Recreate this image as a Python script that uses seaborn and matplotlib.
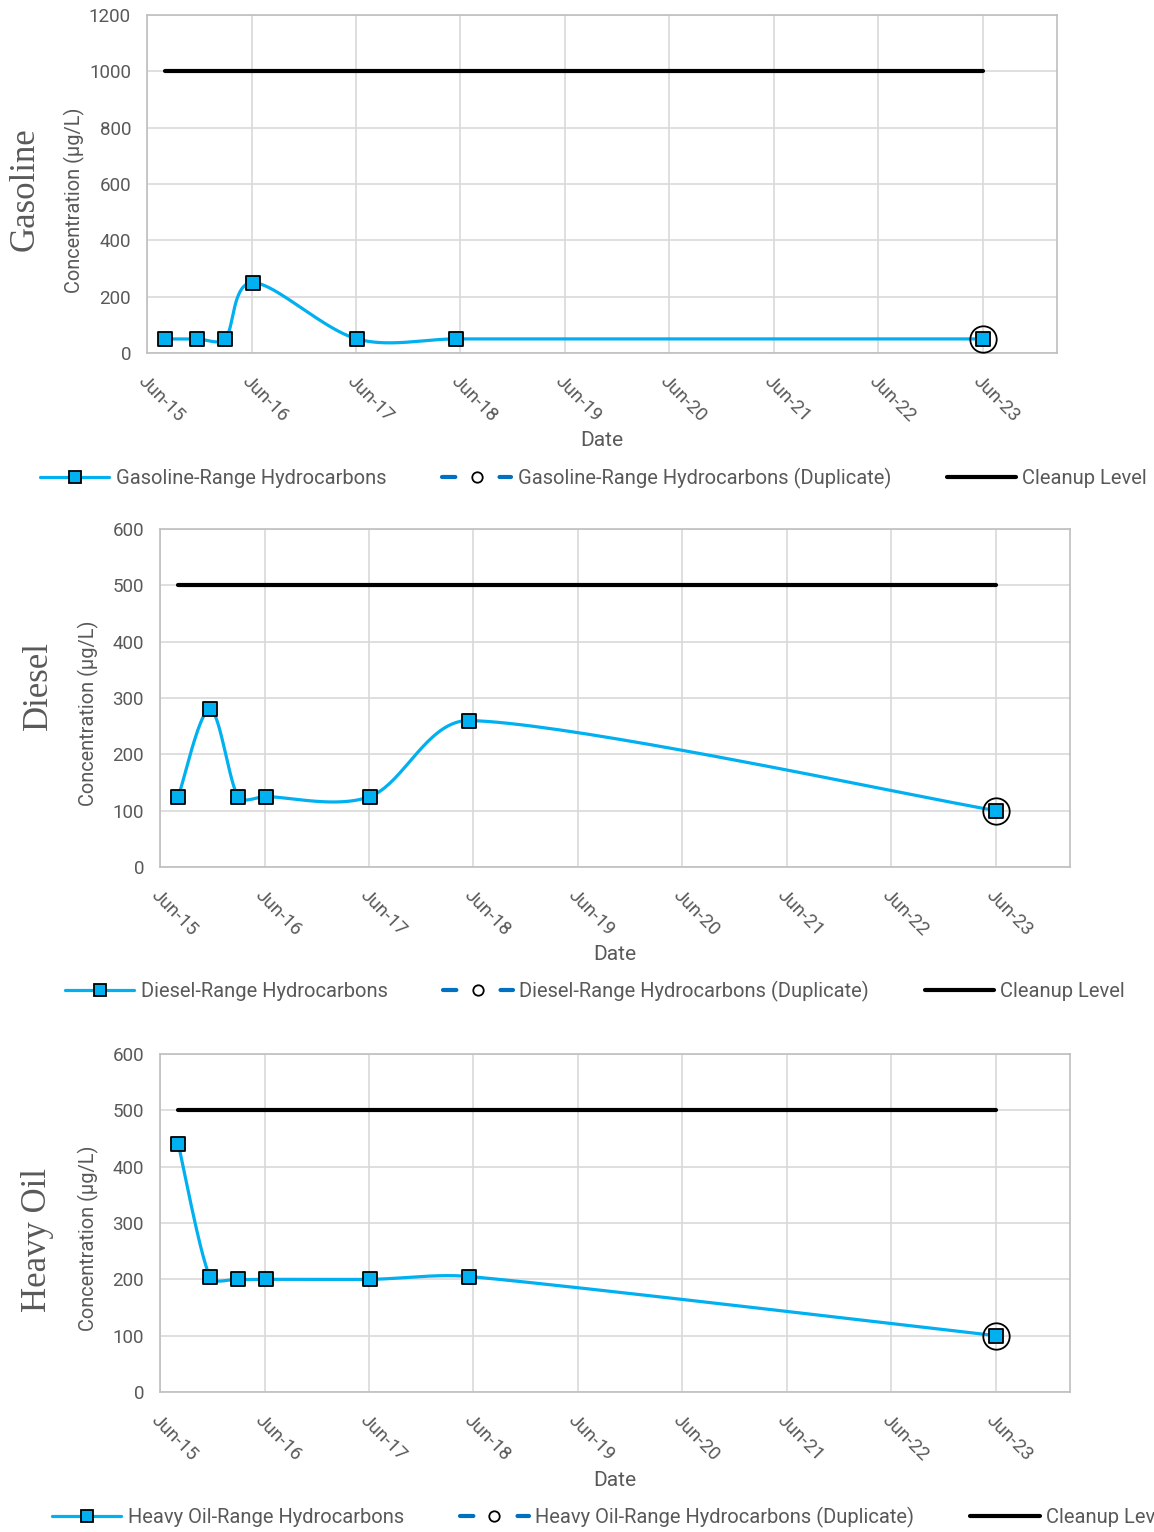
import numpy as np
import pandas as pd
import matplotlib
matplotlib.use("Agg")
import matplotlib.pyplot as plt
import matplotlib.dates as mdates
from matplotlib.ticker import MultipleLocator, FixedLocator
from matplotlib.lines import Line2D
import seaborn as sns

# ---- data -------------------------------------------------------------
sample_dates = ["2015-08-04", "2015-11-22", "2016-02-29", "2016-06-05",
                "2017-06-04", "2018-05-18", "2023-06-03"]
gasoline = [50, 50, 50, 250, 50, 50, 50]
diesel = [125, 280, 125, 125, 125, 260, 100]
heavy_oil = [440, 205, 200, 200, 200, 205, 100]

duplicate_dates = ["2023-06-03"]
gasoline_dup = [50]
diesel_dup = [100]
heavy_oil_dup = [100]

gasoline_cleanup = 1000
diesel_cleanup = 500
heavy_oil_cleanup = 500

panel_titles = ["Gasoline", "Diesel", "Heavy Oil"]
series_names = ["Gasoline-Range Hydrocarbons", "Diesel-Range Hydrocarbons",
                "Heavy Oil-Range Hydrocarbons"]
y_max = [1200, 600, 600]
y_major = [200, 100, 100]

# ---- style ------------------------------------------------------------
sns.set_theme(style="white")
FONT = "Roboto"
plt.rcParams["font.family"] = [FONT, "DejaVu Sans"]
TXT = "#595959"
CYAN = "#00B0F0"
DUP_BLUE = "#0070C0"
GRID = "#D9D9D9"
SPINE = "#BFBFBF"

W, H = 1154, 1532
fig = plt.figure(figsize=(W / 100, H / 100), dpi=100)

# axes boxes in pixels: left, top, right, bottom
boxes = [(147, 15, 1057, 353), (160, 529, 1070, 867), (160, 1054, 1070, 1392)]
title_pos = [(25, 189), (38, 686), (38, 1240)]
ylabel_pos = [(74, 200), (88, 713), (88, 1238)]
legend_pos = [(40, 478), (65, 991), (52, 1517)]
date_label_y = [441, 955, 1480]

x_start = mdates.date2num(pd.Timestamp("2015-06-01"))
x_end = mdates.date2num(pd.Timestamp("2024-02-16"))
year_ticks = [mdates.date2num(pd.Timestamp(f"{y}-06-01")) for y in range(2015, 2024)]
minor_ticks = list(np.arange(x_start, x_end, 365.25 / 5))


def smooth_curve(ax, x, y, n=40):
    """Smoothed line through every point: cubic Bezier segments with
    Catmull-Rom handles, each handle limited to a third of its segment
    (computed in display space, then mapped back to data)."""
    data = np.column_stack([x, y]).astype(float)
    pts = ax.transData.transform(data)
    m = len(pts)
    tang = np.zeros_like(pts)
    for i in range(m):
        a = pts[i - 1] if i > 0 else pts[i]
        b = pts[i + 1] if i < m - 1 else pts[i]
        tang[i] = (b - a) / 6.0

    def limit(v, L):
        n_ = np.hypot(*v)
        return v * (L / n_) if n_ > L and n_ > 0 else v

    t = np.linspace(0, 1, n)[1:, None]
    out = [pts[0]]
    for i in range(m - 1):
        p1, p2 = pts[i], pts[i + 1]
        L = np.hypot(*(p2 - p1)) / 3.0
        c1 = p1 + limit(tang[i], L)
        c2 = p2 - limit(tang[i + 1], L)
        seg = ((1 - t) ** 3) * p1 + 3 * ((1 - t) ** 2) * t * c1 \
            + 3 * (1 - t) * t ** 2 * c2 + t ** 3 * p2
        out.extend(seg)
    back = ax.transData.inverted().transform(np.array(out))
    return back[:, 0], back[:, 1]


datasets = [(gasoline, gasoline_dup, gasoline_cleanup),
            (diesel, diesel_dup, diesel_cleanup),
            (heavy_oil, heavy_oil_dup, heavy_oil_cleanup)]

xd = mdates.date2num(pd.to_datetime(sample_dates))
xdup = mdates.date2num(pd.to_datetime(duplicate_dates))

for k, (vals, dup, clean) in enumerate(datasets):
    l, t_, r, b = boxes[k]
    ax = fig.add_axes([l / W, 1 - b / H, (r - l) / W, (b - t_) / H])
    ax.set_xlim(x_start, x_end)
    ax.set_ylim(0, y_max[k])

    # cleanup level across the sampling period
    clean_df = pd.DataFrame({"date": [xd[0], xd[-1]], "value": [clean, clean]})
    sns.lineplot(data=clean_df, x="date", y="value", ax=ax, color="black",
                 lw=3.0, sort=False, estimator=None, zorder=3)

    # smoothed concentration line
    sx, sy = smooth_curve(ax, xd, vals)
    curve = pd.DataFrame({"date": sx, "value": sy})
    sns.lineplot(data=curve, x="date", y="value", ax=ax, color=CYAN,
                 lw=2.3, sort=False, estimator=None, zorder=4)

    # sample markers
    pts = pd.DataFrame({"date": xd, "value": vals})
    sns.scatterplot(data=pts, x="date", y="value", ax=ax, marker="s", s=105,
                    color=CYAN, edgecolor="black", linewidth=1.3, zorder=5)

    # duplicate sample
    ax.plot(xdup, dup, linestyle="none", marker="o", markersize=19,
            markerfacecolor="none", markeredgecolor="black",
            markeredgewidth=1.3, zorder=6)

    ax.set_xlim(x_start, x_end)
    ax.set_ylim(0, y_max[k])
    ax.xaxis.set_major_locator(FixedLocator(year_ticks))
    ax.xaxis.set_minor_locator(FixedLocator(minor_ticks))
    ax.xaxis.set_major_formatter(mdates.DateFormatter("%b-%y"))
    ax.yaxis.set_major_locator(MultipleLocator(y_major[k]))
    ax.yaxis.set_minor_locator(MultipleLocator(y_major[k] / 5))

    ax.grid(True, which="major", color=GRID, lw=1.2)
    ax.set_axisbelow(True)
    for sp in ax.spines.values():
        sp.set_color(SPINE)
        sp.set_linewidth(1.2)

    ax.tick_params(axis="y", which="both", direction="inout", length=7,
                   width=1.1, color=SPINE, labelsize=13.5, labelcolor=TXT, pad=8)
    ax.tick_params(axis="x", which="both", direction="out", length=5,
                   width=1.1, color=SPINE, labelsize=13.5, labelcolor=TXT, pad=9)
    for lab in ax.get_xticklabels():
        lab.set_rotation(-45)
        lab.set_ha("left")
        lab.set_va("top")
        lab.set_rotation_mode("anchor")

    ax.set_xlabel("")
    ax.set_ylabel("")

    fig.text((l + r) / 2 / W, 1 - date_label_y[k] / H, "Date", ha="center",
             va="center", fontsize=15, color=TXT)
    fig.text(ylabel_pos[k][0] / W, 1 - ylabel_pos[k][1] / H,
             "Concentration (µg/L)", rotation=90, ha="center", va="center",
             fontsize=14.4, color=TXT)
    fig.text(title_pos[k][0] / W, 1 - title_pos[k][1] / H, panel_titles[k],
             rotation=90, ha="center", va="center", fontsize=25, color=TXT,
             family=["Liberation Serif", "DejaVu Serif"])

    handles = [
        Line2D([], [], color=CYAN, lw=2.3, marker="s", markersize=9,
               markerfacecolor=CYAN, markeredgecolor="black", markeredgewidth=1.3),
        Line2D([], [], color=DUP_BLUE, lw=3.0, dashes=(3.2, 10.6), marker="o",
               markersize=7.5, markerfacecolor="none", markeredgecolor="black",
               markeredgewidth=1.3, dash_capstyle="round"),
        Line2D([], [], color="black", lw=3.0),
    ]
    labels = [series_names[k], series_names[k] + " (Duplicate)", "Cleanup Level"]
    fig.legend(handles, labels, loc="center left",
               bbox_to_anchor=(legend_pos[k][0] / W, 1 - legend_pos[k][1] / H),
               ncol=3, frameon=False, fontsize=14.5, labelcolor=TXT,
               handlelength=3.45, handletextpad=0.3, columnspacing=2.78,
               borderpad=0, borderaxespad=0, numpoints=1)

fig.savefig("out.png", dpi=100)
